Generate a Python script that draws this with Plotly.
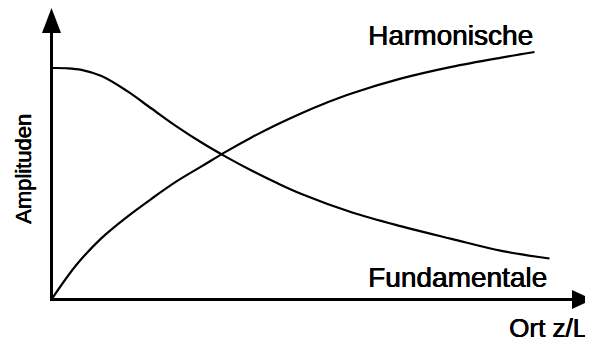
import plotly.graph_objects as go

# The page body has an 8px margin, so the figure is made 8px smaller
# and all window-pixel positions are shifted by that offset.
WIN_W, WIN_H = 593, 342
OFF = 8
W, H = WIN_W - OFF, WIN_H - OFF

# ---- data (z/L, normalised amplitude) ----
fund_x = [0.0, 0.03, 0.06, 0.1, 0.15, 0.2, 0.25, 0.3, 0.35, 0.4, 0.45, 0.5, 0.6, 0.7, 0.8, 0.9, 0.996]
fund_y = [1.0, 0.999, 0.992, 0.965, 0.902, 0.825, 0.748, 0.678, 0.615, 0.557, 0.504, 0.456, 0.377, 0.316, 0.262, 0.21, 0.177]

harm_x = [0.0, 0.05, 0.1, 0.15, 0.2, 0.25, 0.3, 0.35, 0.4, 0.45, 0.5, 0.55, 0.6, 0.7, 0.8, 0.9, 0.966]
harm_y = [0.0, 0.15, 0.265, 0.355, 0.435, 0.51, 0.575, 0.64, 0.70, 0.755, 0.805, 0.85, 0.89, 0.955, 1.005, 1.045, 1.069]

label_harm = "Harmonische"
label_fund = "Fundamentale"
x_title = "Ort z/L"
y_title = "Amplituden"

# pixel geometry of the schematic axes (window pixels)
OX, OY = 51.5, 299.5       # origin
XU, YU = 500.0, 231.5      # pixels per data unit


def px(x):
    return (x - OFF) / W


def py(y):
    return 1 - (y - OFF) / H


fig = go.Figure()
line_style = dict(color="black", width=2.2, shape="spline", smoothing=1.0)
fig.add_trace(go.Scatter(x=fund_x, y=fund_y, mode="lines", line=line_style, hoverinfo="skip"))
fig.add_trace(go.Scatter(x=harm_x, y=harm_y, mode="lines", line=line_style, hoverinfo="skip"))

shapes = [
    # y axis line
    dict(type="line", xref="paper", yref="paper", x0=px(OX), x1=px(OX), y0=py(OY + 1.5), y1=py(30),
         line=dict(color="black", width=3)),
    # x axis line
    dict(type="line", xref="paper", yref="paper", x0=px(OX - 1.5), x1=px(575), y0=py(OY), y1=py(OY),
         line=dict(color="black", width=3)),
    # y arrow head
    dict(type="path", xref="paper", yref="paper",
         path=f"M {px(OX)} {py(8)} L {px(OX - 9.5)} {py(33)} L {px(OX + 9.5)} {py(33)} Z",
         fillcolor="black", line=dict(width=0)),
    # x arrow head
    dict(type="path", xref="paper", yref="paper",
         path=f"M {px(593)} {py(OY)} L {px(572)} {py(OY - 9.5)} L {px(572)} {py(OY + 9.5)} Z",
         fillcolor="black", line=dict(width=0)),
]

font = "Liberation Sans, Arial, sans-serif"
heavy = "0.6px 0 0 black, 0 0.3px 0 black"
annotations = [
    dict(text=label_harm, xref="paper", yref="paper", x=px(366), y=py(35), xanchor="left", yanchor="middle",
         showarrow=False, font=dict(family=font, size=28, color="black", shadow=heavy)),
    dict(text=label_fund, xref="paper", yref="paper", x=px(366), y=py(277), xanchor="left", yanchor="middle",
         showarrow=False, font=dict(family=font, size=28, color="black", shadow=heavy)),
    dict(text=x_title, xref="paper", yref="paper", x=px(589), y=py(328), xanchor="right", yanchor="middle",
         showarrow=False, font=dict(family=font, size=26, color="black", shadow=heavy)),
    dict(text=y_title, xref="paper", yref="paper", x=px(23), y=py(169), xanchor="center", yanchor="middle",
         textangle=-90, showarrow=False, font=dict(family=font, size=22, color="black", shadow=heavy)),
]

fig.update_layout(
    width=W, height=H,
    margin=dict(l=0, r=0, t=0, b=0),
    paper_bgcolor="white", plot_bgcolor="white",
    showlegend=False,
    shapes=shapes,
    annotations=annotations,
    xaxis=dict(range=[-(OX - OFF) / XU, (WIN_W - OX) / XU], visible=False, fixedrange=True),
    yaxis=dict(range=[-(WIN_H - OY) / YU, (OY - OFF) / YU], visible=False, fixedrange=True),
)

fig.write_html("out.html", config={"displayModeBar": False})
